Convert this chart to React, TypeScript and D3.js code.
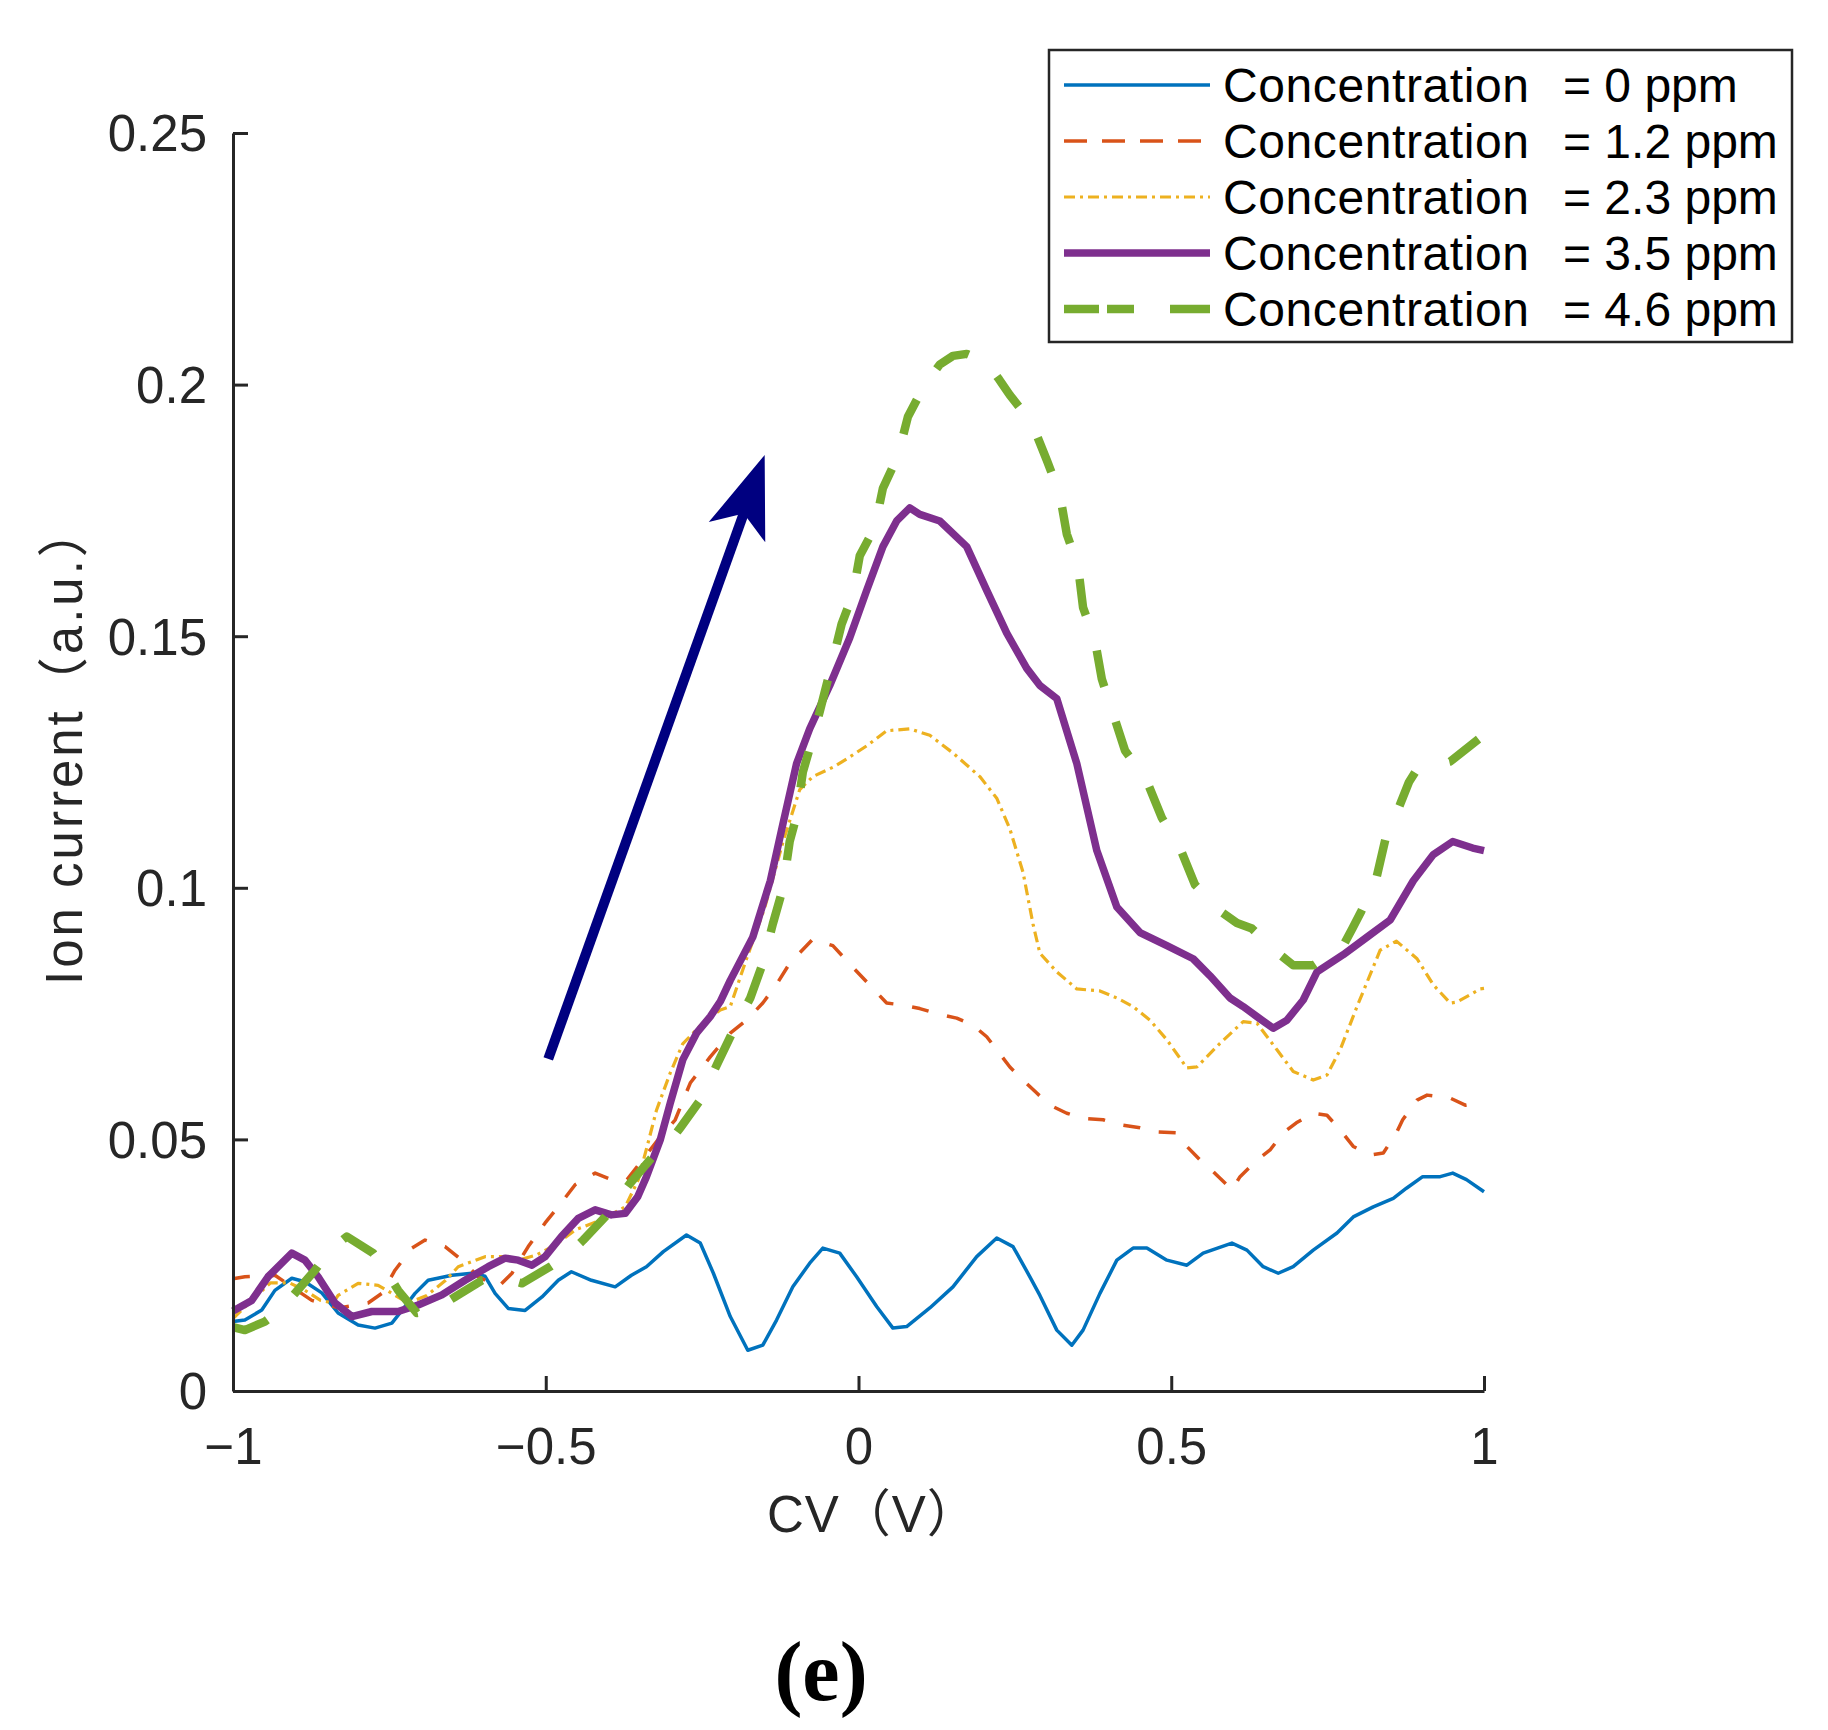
import React, { useEffect, useRef } from "react";
import * as d3 from "d3";

// ---------- data ----------
const xTicks = [-1, -0.5, 0, 0.5, 1];
const xTickLabels = ["\u22121", "\u22120.5", "0", "0.5", "1"];
const yTicks = [0, 0.05, 0.1, 0.15, 0.2, 0.25];
const yTickLabels = ["0", "0.05", "0.1", "0.15", "0.2", "0.25"];

const seriesNames = [
  "Concentration",
  "Concentration",
  "Concentration",
  "Concentration",
  "Concentration",
];
const seriesValues = ["= 0 ppm", "= 1.2 ppm", "= 2.3 ppm", "= 3.5 ppm", "= 4.6 ppm"];

const conc0: [number, number][] = [
  [-1.0, 0.0138], [-0.981, 0.0141], [-0.954, 0.0161], [-0.933, 0.02], [-0.906, 0.0224],
  [-0.885, 0.0217], [-0.858, 0.0195], [-0.832, 0.0155], [-0.8, 0.0131], [-0.773, 0.0125],
  [-0.746, 0.0135], [-0.73, 0.016], [-0.709, 0.0194], [-0.688, 0.022], [-0.65, 0.023],
  [-0.618, 0.0234], [-0.597, 0.0228], [-0.581, 0.0194], [-0.56, 0.0164], [-0.533, 0.016],
  [-0.506, 0.0187], [-0.48, 0.022], [-0.459, 0.0237], [-0.427, 0.022], [-0.389, 0.0207],
  [-0.363, 0.023], [-0.339, 0.0247], [-0.312, 0.0277], [-0.275, 0.031], [-0.253, 0.0294],
  [-0.232, 0.0234], [-0.205, 0.0148], [-0.177, 0.0081], [-0.153, 0.0091], [-0.131, 0.0141],
  [-0.105, 0.0207], [-0.078, 0.0254], [-0.057, 0.0284], [-0.03, 0.0274], [-0.003, 0.0227],
  [0.029, 0.0168], [0.055, 0.0125], [0.077, 0.0128], [0.114, 0.0165], [0.151, 0.0207],
  [0.189, 0.0267], [0.221, 0.0304], [0.247, 0.0287], [0.274, 0.0227], [0.29, 0.019],
  [0.317, 0.0121], [0.341, 0.0091], [0.359, 0.0121], [0.386, 0.0194], [0.413, 0.026],
  [0.439, 0.0284], [0.461, 0.0284], [0.493, 0.026], [0.525, 0.025], [0.551, 0.0274],
  [0.597, 0.0294], [0.621, 0.028], [0.647, 0.0247], [0.671, 0.0234], [0.695, 0.0247],
  [0.727, 0.028], [0.765, 0.0314], [0.791, 0.0346], [0.823, 0.0366], [0.855, 0.0383],
  [0.876, 0.0403], [0.902, 0.0426], [0.93, 0.0426], [0.95, 0.0433], [0.972, 0.042],
  [1.0, 0.0396],
];

const conc12: [number, number][] = [
  [-1.0, 0.0223], [-0.981, 0.0227], [-0.933, 0.023], [-0.906, 0.0207], [-0.874, 0.018],
  [-0.83, 0.0165], [-0.784, 0.0175], [-0.762, 0.0194], [-0.741, 0.024], [-0.714, 0.0284],
  [-0.693, 0.03], [-0.661, 0.0287], [-0.634, 0.026], [-0.608, 0.0227], [-0.576, 0.0207],
  [-0.554, 0.0234], [-0.528, 0.0287], [-0.501, 0.0334], [-0.48, 0.0366], [-0.453, 0.041],
  [-0.421, 0.0433], [-0.395, 0.042], [-0.37, 0.042], [-0.345, 0.046], [-0.32, 0.05],
  [-0.293, 0.0539], [-0.269, 0.0612], [-0.237, 0.0664], [-0.205, 0.0711], [-0.179, 0.0737],
  [-0.153, 0.0771], [-0.13, 0.081], [-0.11, 0.085], [-0.073, 0.0898], [-0.041, 0.0885],
  [-0.009, 0.0842], [0.023, 0.08], [0.045, 0.0771], [0.071, 0.0767], [0.098, 0.076],
  [0.125, 0.075], [0.157, 0.0741], [0.183, 0.0727], [0.205, 0.0704], [0.226, 0.067],
  [0.242, 0.0644], [0.263, 0.0618], [0.285, 0.0592], [0.306, 0.0568], [0.333, 0.0552],
  [0.359, 0.0542], [0.391, 0.0539], [0.418, 0.0529], [0.45, 0.0523], [0.477, 0.0515],
  [0.509, 0.0513], [0.525, 0.0486], [0.546, 0.0459], [0.567, 0.0436], [0.597, 0.04],
  [0.61, 0.0426], [0.637, 0.0459], [0.658, 0.0479], [0.679, 0.0513], [0.7, 0.0533],
  [0.727, 0.0552], [0.749, 0.0548], [0.77, 0.0519], [0.791, 0.0486], [0.818, 0.0469],
  [0.839, 0.0473], [0.86, 0.0513], [0.87, 0.0539], [0.893, 0.0578], [0.909, 0.0588],
  [0.946, 0.0582], [0.97, 0.0568], [1.0, 0.0575],
];

const conc23: [number, number][] = [
  [-1.0, 0.0144], [-0.97, 0.018], [-0.94, 0.0215], [-0.91, 0.0215], [-0.885, 0.02],
  [-0.86, 0.018], [-0.84, 0.0175], [-0.832, 0.019], [-0.8, 0.0214], [-0.768, 0.021],
  [-0.746, 0.0194], [-0.72, 0.0175], [-0.69, 0.019], [-0.66, 0.022], [-0.64, 0.0247],
  [-0.597, 0.0267], [-0.57, 0.0267], [-0.544, 0.026], [-0.515, 0.027], [-0.485, 0.029],
  [-0.453, 0.032], [-0.411, 0.034], [-0.373, 0.0366], [-0.352, 0.042], [-0.335, 0.05],
  [-0.323, 0.0558], [-0.301, 0.0632], [-0.281, 0.069], [-0.249, 0.0731], [-0.221, 0.0757],
  [-0.205, 0.0764], [-0.179, 0.0859], [-0.15, 0.096], [-0.121, 0.109], [-0.094, 0.1195],
  [-0.073, 0.1221], [-0.04, 0.124], [-0.019, 0.1256], [0.013, 0.1282], [0.045, 0.1312],
  [0.082, 0.1316], [0.114, 0.1303], [0.151, 0.1268], [0.194, 0.1221], [0.221, 0.1178],
  [0.242, 0.1117], [0.263, 0.1031], [0.279, 0.0928], [0.29, 0.087], [0.317, 0.0833],
  [0.349, 0.0799], [0.386, 0.0795], [0.413, 0.0781], [0.439, 0.0764], [0.466, 0.0737],
  [0.493, 0.0698], [0.525, 0.0642], [0.541, 0.0644], [0.578, 0.0691], [0.615, 0.0734],
  [0.637, 0.0731], [0.669, 0.0678], [0.695, 0.0635], [0.727, 0.0618], [0.749, 0.0628],
  [0.77, 0.0678], [0.797, 0.0764], [0.834, 0.0876], [0.86, 0.0894], [0.893, 0.0859],
  [0.919, 0.0807], [0.946, 0.0771], [0.957, 0.0773], [0.994, 0.0799], [1.0, 0.08],
];

const conc35: [number, number][] = [
  [-1.0, 0.0159], [-0.97, 0.018], [-0.944, 0.0227], [-0.906, 0.0274], [-0.885, 0.026],
  [-0.864, 0.0227], [-0.837, 0.0175], [-0.81, 0.0148], [-0.778, 0.0158], [-0.736, 0.0158],
  [-0.704, 0.0171], [-0.666, 0.0191], [-0.629, 0.022], [-0.592, 0.0247], [-0.565, 0.0264],
  [-0.544, 0.026], [-0.522, 0.025], [-0.501, 0.0267], [-0.475, 0.0307], [-0.448, 0.0343],
  [-0.421, 0.036], [-0.395, 0.035], [-0.373, 0.0353], [-0.353, 0.0386], [-0.339, 0.0426],
  [-0.317, 0.0499], [-0.301, 0.0572], [-0.281, 0.0658], [-0.259, 0.0711], [-0.237, 0.0744],
  [-0.221, 0.0774], [-0.205, 0.0816], [-0.169, 0.0902], [-0.141, 0.1014], [-0.121, 0.1126],
  [-0.099, 0.1247], [-0.078, 0.1316], [-0.046, 0.1402], [-0.014, 0.1497], [0.013, 0.1591],
  [0.039, 0.1678], [0.061, 0.1729], [0.082, 0.1755], [0.098, 0.1742], [0.13, 0.1729],
  [0.173, 0.1678], [0.205, 0.1591], [0.237, 0.1506], [0.269, 0.1436], [0.29, 0.1402],
  [0.317, 0.1376], [0.349, 0.1247], [0.381, 0.1074], [0.413, 0.0962], [0.45, 0.0911],
  [0.493, 0.0885], [0.535, 0.0859], [0.562, 0.0825], [0.594, 0.0781], [0.615, 0.0764],
  [0.637, 0.0744], [0.663, 0.0721], [0.685, 0.0737], [0.711, 0.0777], [0.733, 0.0833],
  [0.775, 0.0867], [0.813, 0.0902], [0.85, 0.0936], [0.887, 0.1014], [0.919, 0.1066],
  [0.95, 0.1092], [0.982, 0.1079], [1.0, 0.1074],
];

const conc46: [number, number][] = [
  [-1.0, 0.0127], [-0.981, 0.0121], [-0.949, 0.0138], [-0.925, 0.016], [-0.901, 0.0194],
  [-0.869, 0.024], [-0.845, 0.028], [-0.818, 0.0307], [-0.776, 0.0274], [-0.756, 0.024],
  [-0.736, 0.02], [-0.706, 0.0155], [-0.68, 0.016], [-0.645, 0.0187], [-0.602, 0.022],
  [-0.57, 0.0225], [-0.538, 0.0214], [-0.493, 0.0247], [-0.465, 0.027], [-0.44, 0.03],
  [-0.405, 0.0346], [-0.385, 0.038], [-0.365, 0.0413], [-0.329, 0.0466], [-0.305, 0.049],
  [-0.285, 0.0523], [-0.253, 0.0578], [-0.225, 0.0652], [-0.201, 0.0714], [-0.173, 0.0781],
  [-0.153, 0.085], [-0.137, 0.0928], [-0.121, 0.0998], [-0.11, 0.1092], [-0.099, 0.1143],
  [-0.089, 0.123], [-0.075, 0.129], [-0.062, 0.135], [-0.046, 0.1428], [-0.027, 0.1524],
  [-0.009, 0.1583], [0.002, 0.166], [0.026, 0.1716], [0.039, 0.1794], [0.063, 0.1858],
  [0.079, 0.1936], [0.106, 0.2], [0.13, 0.204], [0.151, 0.2057], [0.173, 0.2061],
  [0.205, 0.2044], [0.225, 0.201], [0.242, 0.1979], [0.277, 0.1924], [0.301, 0.185],
  [0.322, 0.1781], [0.333, 0.1703], [0.351, 0.1639], [0.359, 0.1557], [0.378, 0.1492],
  [0.389, 0.1415], [0.407, 0.1346], [0.426, 0.1273], [0.461, 0.1212], [0.485, 0.1139],
  [0.514, 0.1079], [0.538, 0.1006], [0.578, 0.0954], [0.605, 0.093], [0.629, 0.0919],
  [0.674, 0.0867], [0.695, 0.0846], [0.727, 0.0846], [0.775, 0.0885], [0.79, 0.092],
  [0.804, 0.0954], [0.827, 0.1014], [0.843, 0.11], [0.864, 0.116], [0.88, 0.121],
  [0.893, 0.1236], [0.946, 0.1251], [0.994, 0.1298], [1.0, 0.13],
];

const seriesData = [conc0, conc12, conc23, conc35, conc46];

// annotation arrow (data coordinates: tail -> tip)
const arrowTail: [number, number] = [-0.496, 0.066];
const arrowTip: [number, number] = [-0.15, 0.186];

// ---------- styles ----------
const styles = [
  { color: "#0072BD", width: 3.5, dash: "none", legendDash: "none" },
  { color: "#D95319", width: 3.5, dash: "17,19", legendDash: "23,15" },
  { color: "#EDB120", width: 3.2, dash: "11,5,3,5", legendDash: "11,5,3,5" },
  { color: "#7E2F8E", width: 7.5, dash: "none", legendDash: "none" },
  { color: "#77AC30", width: 8.5, dash: "37,37", legendDash: "35,8,27,36,40" },
];

const W = 1828;
const H = 1730;
const SANS = "'Liberation Sans', Arial, 'Noto Sans CJK JP', sans-serif";
const AXIS_COLOR = "#262626";

export default function App() {
  const xAxisRef = useRef<SVGGElement>(null);
  const yAxisRef = useRef<SVGGElement>(null);

  const x = d3.scaleLinear().domain([-1, 1]).range([233, 1484]);
  const y = d3.scaleLinear().domain([0, 0.25]).range([1391, 133]);

  const line = d3
    .line<[number, number]>()
    .x((d) => x(d[0]))
    .y((d) => y(d[1]));

  useEffect(() => {
    if (xAxisRef.current) {
      const ax = d3
        .axisBottom(x)
        .tickValues(xTicks)
        .tickFormat((_d, i) => xTickLabels[i])
        .tickSizeInner(-15)
        .tickSizeOuter(0)
        .tickPadding(37);
      const g = d3.select(xAxisRef.current);
      g.call(ax as any);
      g.attr("font-family", SANS).attr("font-size", 51);
      g.select(".domain").attr("stroke", AXIS_COLOR).attr("stroke-width", 3);
      g.selectAll(".tick line").attr("stroke", AXIS_COLOR).attr("stroke-width", 3);
      g.selectAll(".tick text").attr("fill", AXIS_COLOR);
    }
    if (yAxisRef.current) {
      const ay = d3
        .axisLeft(y)
        .tickValues(yTicks)
        .tickFormat((_d, i) => yTickLabels[i])
        .tickSizeInner(-15)
        .tickSizeOuter(0)
        .tickPadding(26);
      const g = d3.select(yAxisRef.current);
      g.call(ay as any);
      g.attr("font-family", SANS).attr("font-size", 51);
      g.select(".domain").attr("stroke", AXIS_COLOR).attr("stroke-width", 3);
      g.selectAll(".tick line").attr("stroke", AXIS_COLOR).attr("stroke-width", 3);
      g.selectAll(".tick text").attr("fill", AXIS_COLOR).attr("dy", "0.35em");
    }
  }, []);

  // arrow geometry in pixel space
  const tx = x(arrowTail[0]);
  const ty = y(arrowTail[1]);
  const hx = x(arrowTip[0]);
  const hy = y(arrowTip[1]);
  const len = Math.hypot(hx - tx, hy - ty);
  const ux = (hx - tx) / len;
  const uy = (hy - ty) / len;
  const px = -uy;
  const py = ux;
  const headLen = 82;
  const headHalf = 30;
  const notch = 62;
  const cornerL = [hx - ux * headLen + px * headHalf, hy - uy * headLen + py * headHalf];
  const cornerR = [hx - ux * headLen - px * headHalf, hy - uy * headLen - py * headHalf];
  const notchPt = [hx - ux * notch, hy - uy * notch];
  const headPath = `M${hx},${hy}L${cornerL[0]},${cornerL[1]}L${notchPt[0]},${notchPt[1]}L${cornerR[0]},${cornerR[1]}Z`;

  const legendX = 1049;
  const legendY = 50;
  const legendW = 743;
  const legendH = 292;
  const rowY0 = 85;
  const rowStep = 56;

  return (
    <svg
      width={W}
      height={H}
      viewBox={`0 0 ${W} ${H}`}
      style={{ position: "absolute", left: 0, top: 0, background: "#ffffff" }}
    >
      <rect x={0} y={0} width={W} height={H} fill="#ffffff" />

      {/* series */}
      {seriesData.map((data, i) => (
        <path
          key={i}
          d={line(data) || ""}
          fill="none"
          stroke={styles[i].color}
          strokeWidth={styles[i].width}
          strokeDasharray={styles[i].dash}
          strokeLinejoin="round"
        />
      ))}

      {/* axes */}
      <g ref={xAxisRef} transform={`translate(0,${y(0)})`} />
      <g ref={yAxisRef} transform={`translate(${x(-1)},0)`} />

      {/* axis titles */}
      <text
        x={767}
        y={1532}
        fontFamily={SANS}
        fontSize={51}
        fill={AXIS_COLOR}
        textAnchor="start"
        letterSpacing={1}
      >
        CV（V）
      </text>
      <text
        transform={`translate(82,985) rotate(-90)`}
        fontFamily={SANS}
        fontSize={51}
        fill={AXIS_COLOR}
        textAnchor="start"
        letterSpacing={3}
      >
        Ion current（a.u.）
      </text>

      {/* arrow */}
      <line
        x1={tx}
        y1={ty}
        x2={notchPt[0] + ux * 4}
        y2={notchPt[1] + uy * 4}
        stroke="#000080"
        strokeWidth={10}
      />
      <path d={headPath} fill="#000080" />

      {/* legend */}
      <rect
        x={legendX}
        y={legendY}
        width={legendW}
        height={legendH}
        fill="#ffffff"
        stroke={AXIS_COLOR}
        strokeWidth={2.5}
      />
      {seriesNames.map((name, i) => {
        const ry = rowY0 + i * rowStep;
        return (
          <g key={i}>
            <line
              x1={1064}
              x2={1210}
              y1={ry}
              y2={ry}
              stroke={styles[i].color}
              strokeWidth={styles[i].width}
              strokeDasharray={styles[i].legendDash}
            />
            <text x={1223} y={ry + 17} fontFamily={SANS} fontSize={48} fill="#000000" letterSpacing={0.6}>
              {name}
            </text>
            <text x={1563} y={ry + 17} fontFamily={SANS} fontSize={48} fill="#000000">
              {seriesValues[i]}
            </text>
          </g>
        );
      })}

      {/* panel label */}
      <text
        x={821}
        y={1700}
        fontFamily="'Liberation Serif', 'Times New Roman', serif"
        fontWeight="bold"
        fontSize={84}
        textAnchor="middle"
        fill="#000000"
      >
        (e)
      </text>
    </svg>
  );
}
